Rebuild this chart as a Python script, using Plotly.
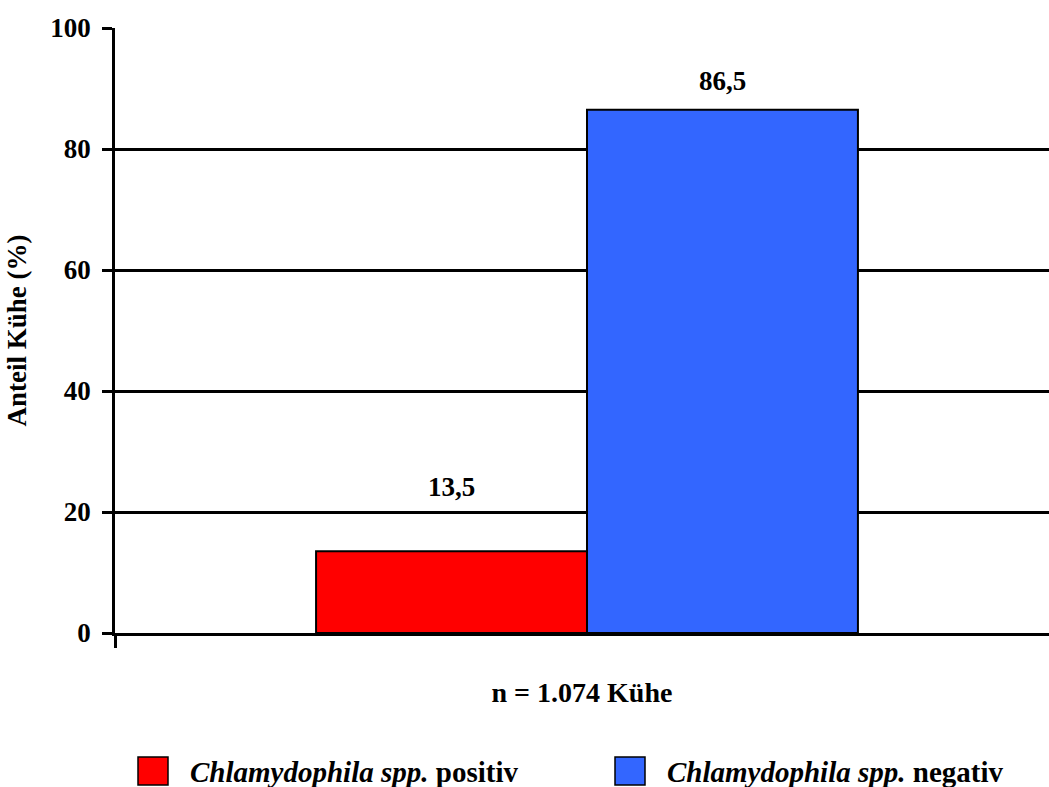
import plotly.graph_objects as go

# Anteil positiv / negativ getesteter Kühe
groups = ["Chlamydophila spp. positiv", "Chlamydophila spp. negativ"]
italic_part = ["Chlamydophila spp.", "Chlamydophila spp."]
status = ["positiv", "negativ"]
values = [13.5, 86.5]
colors = ["#FF0000", "#3366FF"]
y_ticks = [0, 20, 40, 60, 80, 100]
x_title = "n = 1.074 Kühe"
y_title = "Anteil Kühe (%)"

FONT = "Liberation Serif, Times New Roman, serif"
PLOT_W, PLOT_H = 934, 605
LINE_W = 2.5

fig = go.Figure()
for name, val, col in zip(groups, values, colors):
    fig.add_trace(go.Bar(
        x=[0], y=[val], name=name,
        marker=dict(color=col, line=dict(color="black", width=2)),
        showlegend=False,
    ))

# value labels above the bars
n = len(values)
group_w = 0.574
bar_w = group_w / n
label_lift = [64, 29]
for i, val in enumerate(values):
    xc = -group_w / 2 + bar_w * (i + 0.5)
    fig.add_annotation(
        x=xc, y=val, xref="x", yref="y", yanchor="middle", yshift=label_lift[i],
        text="<b>" + f"{val:.1f}".replace(".", ",") + "</b>",
        showarrow=False, font=dict(family=FONT, size=27, color="black"),
    )

# legend: coloured squares with labels
legend_x = [(138 - 115) / PLOT_W, (615 - 115) / PLOT_W]
for i in range(n):
    x0 = legend_x[i]
    fig.add_shape(
        type="rect", xref="paper", yref="paper",
        x0=x0, x1=x0 + 30 / PLOT_W,
        y0=-(757 - 633) / PLOT_H, y1=-(785 - 633) / PLOT_H,
        fillcolor=colors[i], line=dict(color="black", width=1.5),
    )
    fig.add_annotation(
        x=x0 + 50 / PLOT_W, y=-(772 - 633) / PLOT_H,
        xref="paper", yref="paper",
        xanchor="left", yanchor="middle", showarrow=False,
        text=f"<b><i>{italic_part[i]}</i> {status[i]}</b>",
        font=dict(family=FONT, size=29, color="black"),
    )

fig.update_layout(
    width=1049, height=787,
    margin=dict(l=115, r=0, t=28, b=154),
    plot_bgcolor="white", paper_bgcolor="white",
    barmode="group", bargap=1 - group_w, bargroupgap=0,
    font=dict(family=FONT, color="black"),
    xaxis=dict(
        range=[-0.5, 0.4894], tickvals=[-0.5], ticktext=[""],
        ticks="outside", ticklen=12, tickwidth=LINE_W, tickcolor="black",
        showline=True, linecolor="black", linewidth=LINE_W,
        showgrid=False, zeroline=False,
        title=dict(text=f"<b>{x_title}</b>", standoff=34,
                   font=dict(family=FONT, size=28, color="black")),
    ),
    yaxis=dict(
        range=[0, 100], tickvals=y_ticks,
        ticks="outside", ticklen=10, tickwidth=LINE_W, tickcolor="black",
        showline=True, linecolor="black", linewidth=LINE_W,
        showgrid=True, gridcolor="black", gridwidth=LINE_W, zeroline=False,
        tickfont=dict(family=FONT, size=27, color="black", weight="bold"),
        ticklabelstandoff=6,
        title=dict(text=f"<b>{y_title}</b>", standoff=16,
                   font=dict(family=FONT, size=27, color="black")),
    ),
)

fig.write_html("out.html")
